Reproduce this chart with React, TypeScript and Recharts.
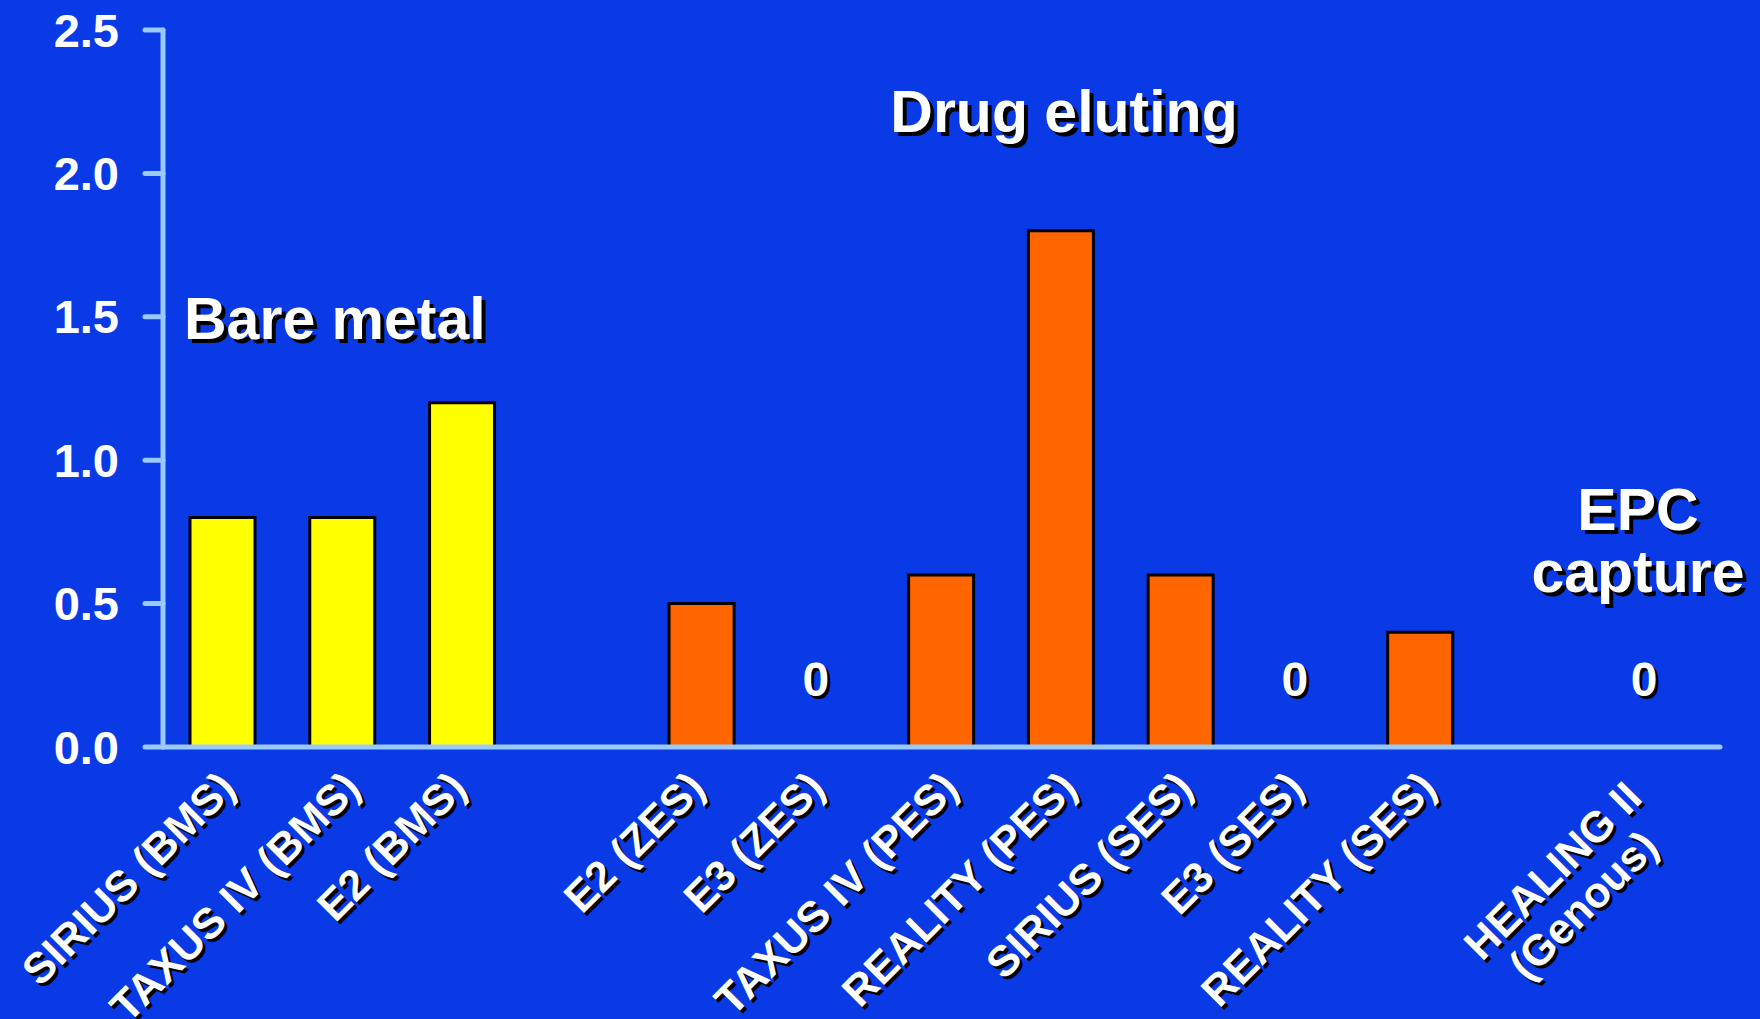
import { BarChart, Bar, XAxis, YAxis, Cell, ReferenceLine } from 'recharts'

// stent thrombosis rate (%) by trial arm; '' = spacer slot between groups
const CATEGORIES = [
  'SIRIUS (BMS)',
  'TAXUS IV (BMS)',
  'E2 (BMS)',
  '',
  'E2 (ZES)',
  'E3 (ZES)',
  'TAXUS IV (PES)',
  'REALITY (PES)',
  'SIRIUS (SES)',
  'E3 (SES)',
  'REALITY (SES)',
  '',
  'HEALING II\n(Genous)',
]
const RATES = [0.8, 0.8, 1.2, null, 0.5, 0, 0.6, 1.8, 0.6, 0, 0.4, null, 0]
const GROUPS = ['bms', 'bms', 'bms', null, 'des', 'des', 'des', 'des', 'des', 'des', 'des', null, 'epc']
const Y_TICKS = [0, 0.5, 1, 1.5, 2, 2.5]

const GROUP_COLORS: Record<string, string> = {
  bms: '#ffff00',
  des: '#ff6600',
  epc: '#ff6600',
}

const W = 1760
const H = 1019
const X_AXIS_H = 272
const BASELINE = H - X_AXIS_H
const BG = '#0a3ae6'
const AXIS = '#99c9ff'
const FONT = '"Liberation Sans", Arial, Helvetica, sans-serif'
const TICK_SIZE = 43

const data = CATEGORIES.map((name, i) => ({
  name,
  rate: RATES[i],
  group: GROUPS[i],
}))

let measureCtx: CanvasRenderingContext2D | null = null
function textWidth(s: string) {
  if (!measureCtx) measureCtx = document.createElement('canvas').getContext('2d')
  if (!measureCtx) return s.length * TICK_SIZE * 0.6
  measureCtx.font = `bold ${TICK_SIZE}px ${FONT}`
  return measureCtx.measureText(s).width
}

function ZeroMark({ cx }: { cx: number }) {
  const by = BASELINE - 51
  const style = { fontFamily: FONT, fontWeight: 700, fontSize: 48 }
  return (
    <g>
      <text x={cx + 3} y={by + 3} fill="#000" textAnchor="middle" style={style}>0</text>
      <text x={cx} y={by} fill="#fff" textAnchor="middle" style={style}>0</text>
    </g>
  )
}

function CategoryTick(props: any) {
  const { x, payload, index } = props
  const lines = String(payload?.value ?? '').split('\n').filter(Boolean)
  if (!lines.length) return null

  const multi = lines.length > 1
  // longer labels sit a little further right, like the original slide
  const shift = multi ? -16 : 5 + 0.095 * (textWidth(lines[0]) - 176)
  const bx = x + shift
  const by = BASELINE + (multi ? 53 : 43)

  const body = (fill: string) =>
    lines.map((line, i) => (
      <tspan key={i} x={i === 0 ? 0 : -23} y={i === 0 ? 0 : 46} fill={fill}>
        {line}
      </tspan>
    ))

  const style = { fontFamily: FONT, fontWeight: 700, fontSize: TICK_SIZE }
  const row = data[index ?? -1]
  return (
    <g>
      {row && row.rate === 0 && <ZeroMark cx={x + (multi ? -16 : -6)} />}
      <text transform={`translate(${bx + 3},${by + 3}) rotate(-45)`} textAnchor="end" style={style}>
        {body('#000')}
      </text>
      <text transform={`translate(${bx},${by}) rotate(-45)`} textAnchor="end" style={style}>
        {body('#fff')}
      </text>
    </g>
  )
}

function ShadowText({ x, y, anchor = 'start', children }: any) {
  const style = { fontFamily: FONT, fontWeight: 700, fontSize: 59 }
  return (
    <g>
      <text x={x + 4} y={y + 4} fill="#000" textAnchor={anchor} style={style}>{children}</text>
      <text x={x} y={y} fill="#fff" textAnchor={anchor} style={style}>{children}</text>
    </g>
  )
}

export default function App() {
  return (
    <div style={{ position: 'relative', width: W, height: H, background: BG }}>
      <style>{'body{margin:0}'}</style>
      <BarChart
        width={W}
        height={H}
        data={data}
        margin={{ top: 30, right: 40, left: 0, bottom: 0 }}
        barCategoryGap={0}
      >
        <XAxis
          dataKey="name"
          interval={0}
          height={X_AXIS_H}
          axisLine={false}
          tickLine={false}
          tick={<CategoryTick />}
        />
        <YAxis
          width={163}
          domain={[0, 2.5]}
          ticks={Y_TICKS}
          interval={0}
          tickFormatter={(v: number) => v.toFixed(1)}
          tickSize={18}
          tickMargin={26}
          axisLine={{ stroke: AXIS, strokeWidth: 5, strokeLinecap: 'round' }}
          tickLine={{ stroke: AXIS, strokeWidth: 5, strokeLinecap: 'round' }}
          tick={{ fill: '#fff', fontSize: 47, fontWeight: 700, fontFamily: FONT }}
        />
        <Bar
          dataKey="rate"
          barSize={65}
          stroke="#000"
          strokeWidth={3}
          isAnimationActive={false}
        >
          {data.map((d, i) => (
            <Cell key={i} fill={d.group ? GROUP_COLORS[d.group] : 'none'} />
          ))}
        </Bar>
        <ReferenceLine y={0} stroke={AXIS} strokeWidth={5} strokeLinecap="round" />
      </BarChart>
      <svg
        width={W}
        height={H}
        style={{ position: 'absolute', left: 0, top: 0, pointerEvents: 'none' }}
      >
        <ShadowText x={184} y={339}>Bare metal</ShadowText>
        <ShadowText x={1064} y={132} anchor="middle">Drug eluting</ShadowText>
        <ShadowText x={1638} y={530} anchor="middle">EPC</ShadowText>
        <ShadowText x={1638} y={592} anchor="middle">capture</ShadowText>
      </svg>
    </div>
  )
}
